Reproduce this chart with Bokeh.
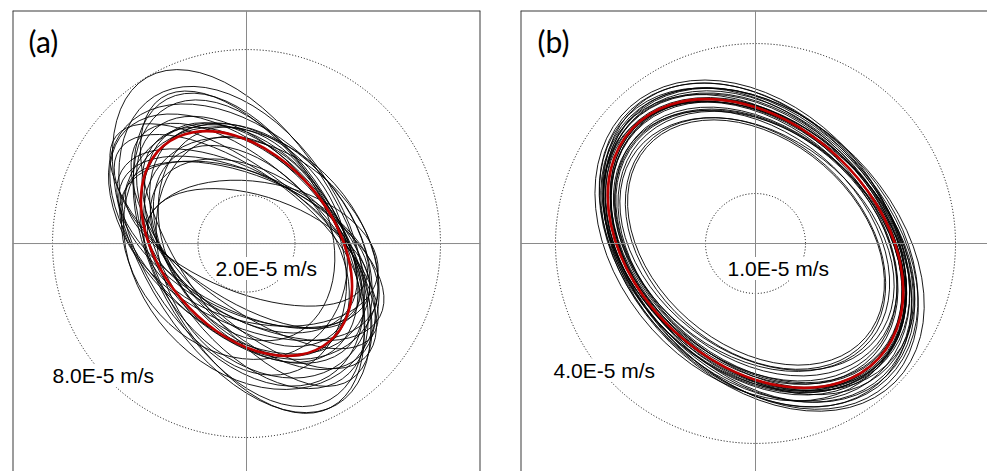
import numpy as np
from bokeh.plotting import figure
from bokeh.layouts import row
from bokeh.models import Span, Label
from bokeh.embed import file_html
from bokeh.resources import INLINE

# Units: 1e-5 m/s
# ---------------- Panel (a) ----------------
rings_a = [2.0, 8.0]
ring_labels_a = ["2.0E-5 m/s", "8.0E-5 m/s"]
mean_a = dict(major=5.29, minor=3.53, angle=130.3)
maj_a = [5.0, 5.6, 6.2, 4.8, 6.8, 5.4, 7.2, 5.9, 6.5, 4.6, 5.2, 6.0, 7.0, 5.7,
         6.3, 4.9, 5.5, 6.7, 5.1, 6.1, 7.8, 5.3, 5.8, 6.4, 4.7, 6.9, 5.6, 6.0]
min_a = [3.2, 2.8, 3.6, 2.5, 4.2, 3.9, 3.8, 2.6, 3.0, 3.4, 4.3, 4.6, 3.3, 3.1,
         4.0, 2.9, 3.5, 2.7, 3.7, 3.3, 4.2, 2.4, 4.1, 3.6, 3.0, 3.9, 3.3, 2.9]
ang_a = [130, 150, 125, 160, 122, 140, 118, 145, 135, 115, 128, 132, 124, 155,
         138, 168, 126, 142, 112, 133, 120, 158, 127, 136, 147, 119, 131, 152]
cx_a = [0.2, -0.3, 0.4, 0.5, -0.2, 0.6, 0.1, -0.4, 0.3, 0.0, -0.5, 0.2, 0.4, 0.1,
        -0.3, 0.6, 0.3, -0.1, 0.2, 0.5, -0.2, 0.0, 0.4, -0.4, 0.3, 0.1, -0.1, 0.2]
cy_a = [-0.3, 0.2, -0.5, -0.6, 0.3, -0.2, -0.4, 0.5, -0.1, 0.4, 0.1, -0.6, 0.2, -0.3,
        0.6, -0.4, 0.0, 0.3, -0.5, -0.2, 0.1, 0.4, -0.3, 0.2, -0.1, -0.4, 0.5, -0.2]

# ---------------- Panel (b) ----------------
rings_b = [1.0, 4.0]
ring_labels_b = ["1.0E-5 m/s", "4.0E-5 m/s"]
mean_b = dict(major=3.37, minor=2.39, angle=137.0)
maj_b = [3.40, 3.55, 3.25, 3.65, 3.10, 3.45, 3.70, 3.30, 3.50, 2.95, 3.60, 3.35, 3.20, 3.75,
         3.42, 3.05, 3.58, 3.28, 3.48, 3.15, 3.62, 3.38, 3.52, 2.90, 3.44, 3.68, 3.33, 3.46]
min_b = [2.40, 2.50, 2.30, 2.60, 2.20, 2.45, 2.55, 2.35, 2.42, 2.10, 2.65, 2.38, 2.28, 2.62,
         2.48, 2.15, 2.52, 2.32, 2.36, 2.25, 2.58, 2.44, 2.46, 2.05, 2.40, 2.55, 2.30, 2.50]
ang_b = [137, 135, 139, 134, 140, 138, 133, 136, 141, 138, 132, 137, 139, 135,
         136, 142, 134, 138, 137, 140, 133, 136, 135, 139, 137, 131, 138, 136]
cx_b = [0.02, -0.05, 0.06, 0.10, -0.08, 0.04, 0.12, -0.03, 0.07, 0.00, -0.10, 0.05, 0.09, 0.14,
        -0.04, 0.03, 0.08, -0.06, 0.11, 0.02, -0.02, 0.06, 0.15, 0.01, -0.07, 0.04, 0.10, -0.01]
cy_b = [-0.03, 0.04, -0.06, -0.08, 0.05, -0.02, -0.10, 0.03, -0.05, 0.00, 0.06, -0.04, -0.07, -0.12,
        0.02, -0.01, -0.06, 0.04, -0.09, 0.01, 0.03, -0.05, -0.14, 0.02, 0.05, -0.03, -0.08, 0.01]


def make_panel(tag, rings, ring_labels, maj, mn, ang, cx, cy, mean,
               xr, yr, width, bl, br, tag_pos, lab_pos, right_edge):
    p = figure(width=width, height=471, x_range=xr, y_range=yr,
               output_backend="svg", toolbar_location=None,
               x_axis_location=None, y_axis_location=None,
               min_border_left=bl, min_border_right=br,
               min_border_top=10, min_border_bottom=0)
    for g in p.grid:
        g.visible = False
    p.outline_line_color = None
    p.background_fill_color = "white"
    p.border_fill_color = "white"

    # panel box (bottom edge lies below the window)
    edge = dict(line_color="#3a3a3a", line_width=2)
    p.add_layout(Span(location=xr[0], dimension="height", **edge))
    p.add_layout(Span(location=yr[1], dimension="width", **edge))
    if right_edge:
        p.add_layout(Span(location=xr[1], dimension="height", **edge))

    p.add_layout(Span(location=0, dimension="width", line_color="#8a8a8a", line_width=1))
    p.add_layout(Span(location=0, dimension="height", line_color="#8a8a8a", line_width=1))
    R = max(rings)
    p.line(x=[-R, R], y=[0, 0], line_color="#555555", line_width=1, line_dash="2 1")
    for r in rings:
        p.circle(x=0, y=0, radius=r, fill_color=None, line_color="#000000",
                 line_width=1, line_dash="1 2")

    p.ellipse(x=cx, y=cy, width=[2 * v for v in maj], height=[2 * v for v in mn],
              angle=list(np.deg2rad(ang)), fill_color=None,
              line_color="#000000", line_width=1.0, line_alpha=0.9)
    p.ellipse(x=0, y=0, width=2 * mean["major"], height=2 * mean["minor"],
              angle=float(np.deg2rad(mean["angle"])), fill_color=None,
              line_color="#c00000", line_width=2.6)

    p.add_layout(Label(x=tag_pos[0], y=tag_pos[1], text=tag, text_font="Lato",
                       text_font_size="30px", text_baseline="middle", text_color="black"))
    for (lx, ly), t in zip(lab_pos, ring_labels):
        p.add_layout(Label(x=lx, y=ly, text=t, text_font="Liberation Sans",
                           text_font_size="21px", text_baseline="alphabetic",
                           text_color="black", background_fill_color="white"))
    return p


pa = make_panel("(a)", rings_a, ring_labels_a, maj_a, min_a, ang_a, cx_a, cy_a, mean_a,
                (-9.65, 9.65), (-9.40, 9.61), 500, 12, 20,
                (-8.99, 8.37), [(-1.28, -1.03), (-8.0, -5.44)], True)
pb = make_panel("(b)", rings_b, ring_labels_b, maj_b, min_b, ang_b, cx_b, cy_b, mean_b,
                (-4.70, 4.64), (-4.56, 4.66), 487, 20, 0,
                (-4.36, 4.06), [(-0.56, -0.50), (-4.04, -2.54)], False)

layout = row(pa, pb)
open("out.html", "w").write(file_html(layout, INLINE))
